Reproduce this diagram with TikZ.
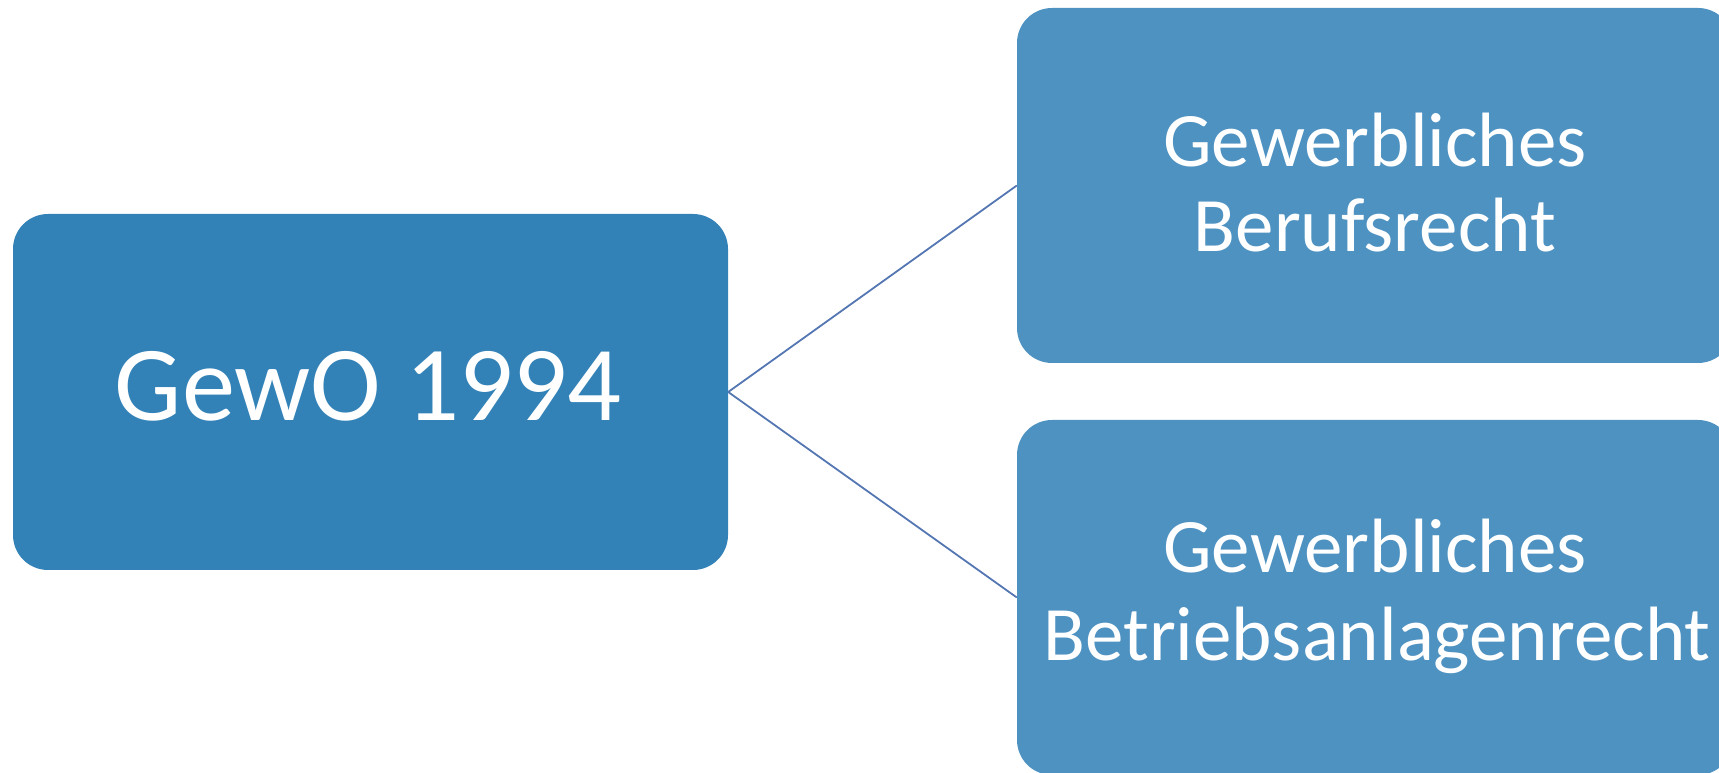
\documentclass[tikz,border=0pt]{standalone}
\usepackage{fontspec}
\setmainfont{Carlito}
\definecolor{mainblue}{RGB}{50,130,184}
\definecolor{subblue}{RGB}{78,146,194}
\definecolor{linkblue}{RGB}{84,118,178}
\begin{document}
\begin{tikzpicture}[x=1pt,y=1pt,
  mainbox/.style={fill=mainblue, rounded corners=35pt, minimum width=715pt, minimum height=356pt, inner sep=0pt},
  subbox/.style={fill=subblue, rounded corners=35pt, minimum width=716pt, minimum height=355pt, inner sep=0pt},
  maintext/.style={text=white, font=\fontsize{106.5}{120}\selectfont, anchor=base},
  subtext/.style={text=white, font=\fontsize{77}{88}\selectfont, anchor=base},
  link/.style={draw=linkblue, line width=1.8pt}]
\useasboundingbox (0,0) rectangle (1719,773);
\clip (0,0) rectangle (1719,773);
% y = 773 - pixel_y
\node[mainbox] (gewo) at (370.5,381) {};
\node[maintext] (gewot) at (368,352) {GewO 1994};
\node[subbox] (beruf) at (1375,587.5) {};
\node[subbox] (betrieb) at (1375,175.5) {};
\node[subtext] (berufa) at (1375,606) {Gewerbliches};
\node[subtext] (berufb) at (1375,521) {Berufsrecht};
\node[subtext] (betra) at (1375,200) {Gewerbliches};
\node[subtext] (betrb) at (1377,112) {Betriebsanlagenrecht};
\draw[link] (gewo.east) -- (beruf.west);
\draw[link] (gewo.east) -- (betrieb.west);
\end{tikzpicture}
\end{document}
